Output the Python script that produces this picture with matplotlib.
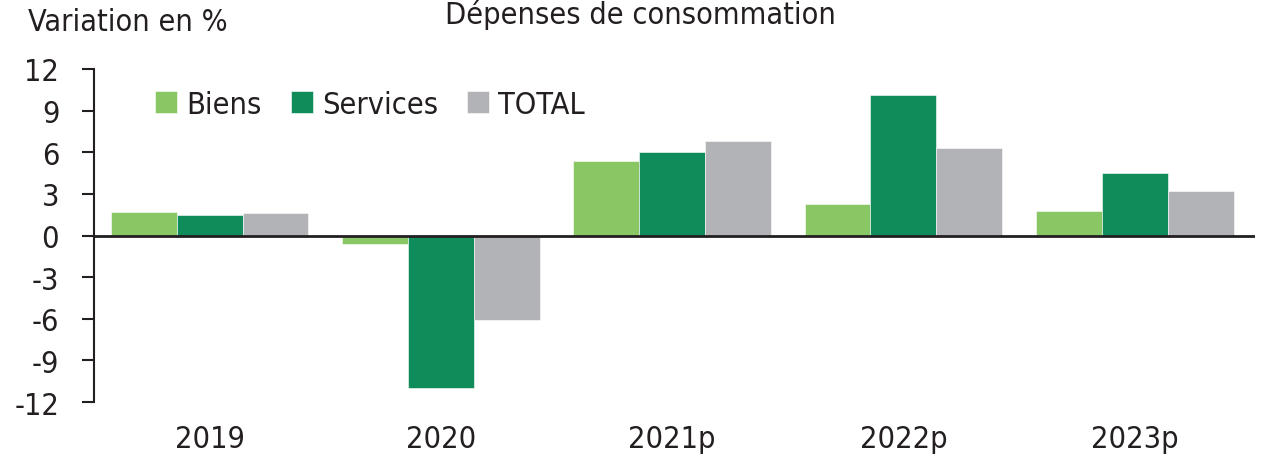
"""Dépenses de consommation - bar chart."""
import matplotlib
matplotlib.use("Agg")
from matplotlib import pyplot as plt
import numpy as np

years = ["2019", "2020", "2021p", "2022p", "2023p"]
biens = [1.7, -0.6, 5.4, 2.3, 1.8]
services = [1.5, -11.0, 6.0, 10.1, 4.5]
total = [1.6, -6.1, 6.8, 6.3, 3.2]

series = [("Biens", biens, "#88C764"),
          ("Services", services, "#108C5A"),
          ("TOTAL", total, "#B2B3B6")]

plt.rcParams["font.family"] = ["DejaVu Sans"]
plt.rcParams["font.stretch"] = "condensed"
plt.rcParams["axes.unicode_minus"] = False
txt = "#231F20"

fig = plt.figure(figsize=(12.68, 4.56), dpi=100)
ax = fig.add_axes([0.0741, 0.1162, 0.9156, 0.7303])

x = np.arange(len(years))
w = 0.285
for i, (name, vals, col) in enumerate(series):
    ax.bar(x + (i - 1) * w, vals, w, color=col, label=name,
           edgecolor="white", linewidth=0.4)

ax.axhline(0, color=txt, lw=2)
ax.set_xlim(-0.5, 4.52)
ax.set_ylim(-12, 12)
ax.set_yticks(np.arange(-12, 13, 3))
ax.set_xticks(x)
ax.set_xticklabels(years)

for s in ["top", "right", "bottom"]:
    ax.spines[s].set_visible(False)
ax.spines["left"].set_color(txt)
ax.spines["left"].set_linewidth(1.5)
ax.tick_params(axis="y", length=9, width=1.5, color=txt, labelsize=22,
               labelcolor=txt, pad=16)
ax.tick_params(axis="x", length=0, labelsize=22, labelcolor=txt, pad=16)

ax.legend(loc="upper left", bbox_to_anchor=(0.029, 1.02), ncol=3, frameon=False,
          fontsize=22, handlelength=0.72, handleheight=0.72, handletextpad=0.3,
          columnspacing=0.95, labelcolor=txt)

fig.text(0.022, 0.95, "Variation en %", fontsize=22, color=txt, va="center")
fig.text(0.505, 1.0, "Dépenses de consommation", fontsize=22, color=txt,
         ha="center", va="top")

fig.savefig("out.png", dpi=100)
